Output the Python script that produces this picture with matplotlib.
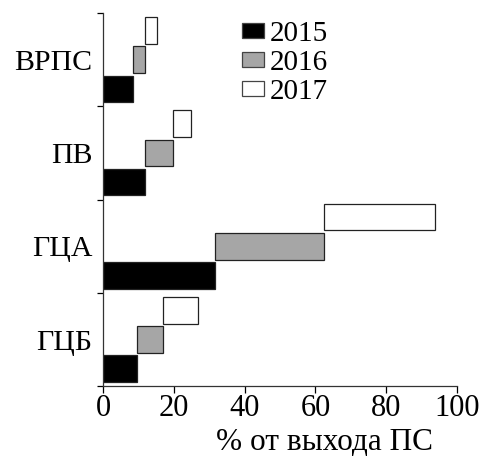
import numpy as np
import matplotlib.pyplot as plt
from matplotlib.patches import Patch

plt.rcParams['font.family'] = ['Liberation Serif', 'DejaVu Serif']

categories = ['ВРПС', 'ПВ', 'ГЦА', 'ГЦБ']
years = ['2015', '2016', '2017']
v2015 = [8.3, 11.8, 31.6, 9.4]
v2016 = [3.5, 7.8, 30.7, 7.5]
v2017 = [3.3, 5.1, 31.6, 10.0]
colors = ['black', '#a6a6a6', 'white']

fig = plt.figure(figsize=(4.83, 4.57), dpi=100)
ax = fig.add_axes([0.214, 0.155, 0.7316, 0.8166])

series = [v2015, v2016, v2017]
left = np.zeros(len(categories))
for k, vals in enumerate(series):
    y = np.arange(len(categories)) + 0.5 + (1 - k) * 0.313
    ax.barh(y, vals, left=left, height=0.285, color=colors[k],
            edgecolor='#222222', linewidth=0.9)
    left = left + np.array(vals)

ax.set_xlim(0, 100)
ax.set_ylim(len(categories), 0)
ax.set_xticks(range(0, 101, 20))
ax.set_yticks(range(len(categories) + 1))
ax.set_yticklabels([])
ax.set_yticks(np.arange(len(categories)) + 0.5, minor=True)
ax.set_yticklabels(categories, minor=True, fontsize=21.5)
ax.tick_params(axis='y', which='minor', length=0, pad=8)
ax.tick_params(axis='y', which='major', length=4, width=0.9)
ax.tick_params(axis='x', length=5, width=0.9, labelsize=22, pad=1)
ax.spines['top'].set_visible(False)
ax.spines['right'].set_visible(False)
for s in ['left', 'bottom']:
    ax.spines[s].set_linewidth(0.9)
    ax.spines[s].set_color('#333333')
ax.set_xlabel('% от выхода ПС', fontsize=22.5, labelpad=3, x=0.627)

handles = [Patch(facecolor=c, edgecolor='#444444', linewidth=0.9) for c in colors]
fig.legend(handles, years, loc='upper left', bbox_to_anchor=(242 / 483, 1 - 21 / 457),
           frameon=False, fontsize=21, handlelength=0.77, handleheight=0.38,
           handletextpad=0.17, labelspacing=0.1, borderpad=0, borderaxespad=0)

fig.savefig('out.png', dpi=100)
